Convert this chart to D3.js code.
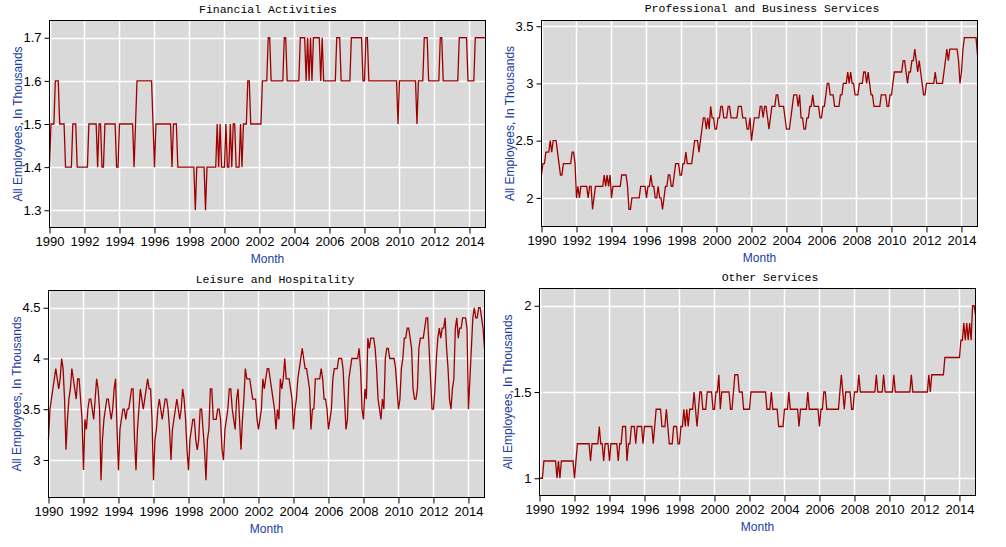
<!DOCTYPE html>
<html>
<head>
<meta charset="utf-8">
<script src="https://cdn.jsdelivr.net/npm/d3@7"></script>
<style>
  body { margin: 0; background: #fff; }
  .axis text { font-family: "Liberation Sans", Arial, sans-serif; font-size: 13px; fill: #000; }
  .axis line, .axis path { stroke: #000; }
  .title { font-family: "Liberation Mono", "Courier New", monospace; font-size: 11.5px; fill: #000; }
  .axlabel { font-family: "Liberation Sans", Arial, sans-serif; font-size: 12px; fill: #1a3ca0; }
</style>
</head>
<body>
<div id="chart"></div>
<script>
// monthly values, Jan 1990 .. Dec 2014 (one row per year)
var financial = [
  1.4,1.5,1.5,1.5,1.6,1.6,1.6,1.5,1.5,1.5,1.5,1.4,
  1.4,1.4,1.4,1.4,1.5,1.5,1.5,1.4,1.4,1.4,1.4,1.4,
  1.4,1.4,1.4,1.5,1.5,1.5,1.5,1.5,1.5,1.4,1.5,1.5,
  1.4,1.4,1.5,1.5,1.5,1.5,1.5,1.5,1.5,1.5,1.4,1.4,
  1.5,1.5,1.5,1.5,1.5,1.5,1.5,1.5,1.5,1.5,1.4,1.5,
  1.6,1.6,1.6,1.6,1.6,1.6,1.6,1.6,1.6,1.6,1.6,1.5,
  1.4,1.5,1.5,1.5,1.5,1.5,1.5,1.5,1.5,1.5,1.5,1.5,
  1.4,1.5,1.5,1.5,1.4,1.4,1.4,1.4,1.4,1.4,1.4,1.4,
  1.4,1.4,1.4,1.4,1.3,1.4,1.4,1.4,1.4,1.4,1.4,1.3,
  1.4,1.4,1.4,1.4,1.4,1.4,1.4,1.5,1.4,1.5,1.4,1.4,
  1.4,1.5,1.4,1.4,1.5,1.4,1.5,1.5,1.4,1.4,1.4,1.5,
  1.4,1.5,1.5,1.5,1.6,1.6,1.5,1.5,1.5,1.5,1.5,1.5,
  1.5,1.5,1.6,1.6,1.6,1.6,1.7,1.7,1.6,1.6,1.6,1.6,
  1.6,1.6,1.6,1.6,1.6,1.7,1.7,1.6,1.6,1.6,1.6,1.6,
  1.6,1.6,1.6,1.6,1.7,1.7,1.7,1.7,1.6,1.7,1.6,1.7,
  1.6,1.7,1.7,1.7,1.7,1.7,1.6,1.7,1.6,1.6,1.6,1.6,
  1.6,1.6,1.6,1.6,1.6,1.7,1.7,1.7,1.6,1.6,1.6,1.6,
  1.6,1.6,1.6,1.7,1.7,1.7,1.7,1.7,1.7,1.7,1.7,1.6,
  1.6,1.7,1.7,1.6,1.6,1.6,1.6,1.6,1.6,1.6,1.6,1.6,
  1.6,1.6,1.6,1.6,1.6,1.6,1.6,1.6,1.6,1.6,1.6,1.5,
  1.6,1.6,1.6,1.6,1.6,1.6,1.6,1.6,1.6,1.6,1.6,1.6,
  1.5,1.6,1.6,1.6,1.6,1.7,1.7,1.7,1.6,1.6,1.6,1.6,
  1.6,1.6,1.6,1.6,1.7,1.7,1.6,1.6,1.6,1.6,1.6,1.6,
  1.6,1.6,1.6,1.6,1.6,1.7,1.7,1.7,1.7,1.7,1.7,1.6,
  1.6,1.6,1.6,1.6,1.7,1.7,1.7,1.7,1.7,1.7,1.7,1.7
];

var professional = [
  2.2,2.3,2.3,2.4,2.4,2.4,2.5,2.4,2.5,2.5,2.5,2.4,
  2.3,2.2,2.2,2.3,2.3,2.3,2.3,2.3,2.3,2.4,2.4,2.3,
  2.0,2.1,2.0,2.1,2.1,2.1,2.1,2.1,2.0,2.1,2.1,1.9,
  2.0,2.1,2.1,2.1,2.1,2.1,2.1,2.2,2.1,2.2,2.1,2.2,
  2.0,2.1,2.1,2.1,2.1,2.1,2.1,2.2,2.2,2.2,2.2,2.1,
  1.9,1.9,2.0,2.0,2.0,2.0,2.0,2.0,2.1,2.1,2.1,2.1,
  2.0,2.1,2.1,2.2,2.1,2.1,2.0,2.0,2.1,2.0,2.0,1.9,
  2.0,2.1,2.1,2.2,2.2,2.1,2.1,2.2,2.3,2.3,2.3,2.2,
  2.2,2.3,2.3,2.4,2.3,2.3,2.3,2.3,2.4,2.5,2.5,2.5,
  2.4,2.5,2.6,2.7,2.7,2.6,2.7,2.6,2.8,2.7,2.7,2.6,
  2.6,2.7,2.7,2.8,2.8,2.7,2.7,2.7,2.8,2.8,2.7,2.7,
  2.7,2.7,2.7,2.8,2.8,2.8,2.7,2.7,2.7,2.6,2.6,2.7,
  2.5,2.6,2.7,2.7,2.7,2.7,2.8,2.8,2.7,2.8,2.8,2.7,
  2.6,2.7,2.8,2.8,2.8,2.9,2.9,2.8,2.8,2.8,2.8,2.7,
  2.6,2.6,2.6,2.7,2.8,2.9,2.9,2.9,2.8,2.9,2.7,2.7,
  2.6,2.6,2.7,2.7,2.8,2.8,2.9,2.8,2.8,2.8,2.8,2.7,
  2.7,2.8,2.8,2.9,3.0,3.0,2.9,2.9,2.9,2.8,2.8,2.8,
  2.8,2.9,2.9,3.0,3.0,3.0,3.1,3.0,3.1,3.0,3.0,2.9,
  2.9,2.9,3.0,3.0,3.0,3.1,3.1,3.0,3.1,3.0,2.9,2.9,
  2.8,2.8,2.8,2.8,2.8,2.9,2.9,2.9,2.9,2.8,2.8,2.9,
  2.9,3.0,3.1,3.1,3.1,3.1,3.1,3.1,3.2,3.2,3.1,3.0,
  3.1,3.1,3.2,3.2,3.3,3.2,3.1,3.2,3.1,3.0,2.9,2.9,
  3.0,3.0,3.0,3.0,3.0,3.0,3.1,3.0,3.0,3.0,3.0,3.0,
  3.1,3.2,3.3,3.2,3.3,3.3,3.3,3.3,3.3,3.3,3.2,3.0,
  3.1,3.3,3.4,3.4,3.4,3.4,3.4,3.4,3.4,3.4,3.4,3.25
];

var leisure = [
  3.2,3.5,3.6,3.7,3.8,3.9,3.8,3.7,3.8,4.0,3.9,3.6,
  3.1,3.4,3.6,3.7,3.9,3.8,3.7,3.6,3.8,3.8,3.6,3.4,
  2.9,3.4,3.3,3.5,3.6,3.6,3.5,3.4,3.6,3.8,3.7,3.5,
  2.8,3.2,3.4,3.5,3.6,3.6,3.5,3.4,3.5,3.7,3.8,3.3,
  2.9,3.3,3.4,3.5,3.5,3.4,3.5,3.5,3.6,3.7,3.7,3.2,
  2.9,3.3,3.5,3.7,3.6,3.5,3.6,3.7,3.8,3.7,3.7,3.4,
  2.8,3.2,3.3,3.5,3.6,3.5,3.4,3.5,3.6,3.6,3.5,3.3,
  3.0,3.3,3.4,3.5,3.6,3.5,3.4,3.5,3.7,3.6,3.4,3.1,
  2.9,3.2,3.3,3.4,3.4,3.2,3.1,3.2,3.5,3.5,3.3,3.1,
  2.8,3.2,3.3,3.7,3.7,3.4,3.4,3.4,3.5,3.5,3.4,3.1,
  3.0,3.3,3.4,3.5,3.7,3.7,3.5,3.4,3.3,3.6,3.7,3.4,
  3.1,3.4,3.6,3.9,3.8,3.8,3.8,3.7,3.6,3.6,3.6,3.4,
  3.3,3.4,3.5,3.8,3.7,3.8,3.9,3.9,3.8,3.7,3.6,3.5,
  3.3,3.5,3.4,3.8,3.7,3.8,4.0,3.8,3.8,3.8,3.7,3.6,
  3.3,3.5,3.6,3.8,3.9,4.0,4.1,4.0,3.9,3.9,3.8,3.7,
  3.3,3.5,3.5,3.8,3.8,3.8,3.8,3.9,3.8,3.6,3.6,3.5,
  3.3,3.4,3.5,3.8,3.9,3.9,3.9,4.0,4.0,4.0,3.9,3.6,
  3.3,3.4,3.8,3.9,4.0,4.0,4.0,4.0,4.0,4.1,3.9,3.5,
  3.4,3.7,3.6,4.2,4.1,4.2,4.2,4.2,4.1,3.9,3.6,3.5,
  3.4,3.6,3.5,4.0,4.1,4.1,4.0,4.0,4.0,4.0,3.9,3.7,
  3.5,3.6,3.9,4.0,4.2,4.2,4.3,4.3,4.2,4.1,3.7,3.6,
  3.6,3.7,4.1,4.2,4.2,4.2,4.3,4.4,4.4,4.1,3.8,3.5,
  3.5,3.7,4.0,4.2,4.3,4.2,4.3,4.3,4.4,4.1,3.9,3.6,
  3.5,3.7,3.8,4.3,4.4,4.2,4.3,4.3,4.4,4.4,4.4,4.3,
  3.5,3.8,4.1,4.4,4.5,4.4,4.4,4.5,4.5,4.4,4.3,4.1
];

var otherServices = [
  1.0,1.0,1.0,1.1,1.1,1.1,1.1,1.1,1.1,1.1,1.1,1.1,
  1.0,1.1,1.0,1.1,1.1,1.1,1.1,1.1,1.1,1.1,1.1,1.1,
  1.0,1.1,1.2,1.2,1.2,1.2,1.2,1.2,1.2,1.2,1.2,1.1,
  1.2,1.2,1.2,1.2,1.2,1.3,1.2,1.2,1.1,1.2,1.2,1.2,
  1.1,1.2,1.2,1.2,1.2,1.2,1.1,1.2,1.2,1.3,1.3,1.3,
  1.1,1.2,1.2,1.3,1.3,1.3,1.2,1.3,1.3,1.3,1.3,1.2,
  1.3,1.3,1.3,1.3,1.3,1.3,1.2,1.3,1.4,1.4,1.4,1.4,
  1.3,1.3,1.3,1.4,1.3,1.2,1.2,1.2,1.3,1.3,1.3,1.2,
  1.2,1.3,1.3,1.4,1.3,1.4,1.3,1.4,1.4,1.4,1.5,1.4,
  1.3,1.4,1.5,1.5,1.4,1.4,1.4,1.5,1.5,1.5,1.5,1.4,
  1.4,1.5,1.5,1.6,1.4,1.5,1.5,1.5,1.5,1.5,1.5,1.4,
  1.4,1.5,1.6,1.6,1.6,1.5,1.5,1.5,1.4,1.4,1.4,1.4,
  1.4,1.5,1.5,1.5,1.5,1.5,1.5,1.5,1.5,1.5,1.5,1.5,
  1.4,1.4,1.4,1.5,1.4,1.4,1.4,1.4,1.3,1.3,1.3,1.3,
  1.4,1.4,1.4,1.5,1.4,1.4,1.4,1.4,1.4,1.4,1.3,1.4,
  1.4,1.4,1.4,1.4,1.5,1.4,1.4,1.4,1.4,1.4,1.4,1.4,
  1.3,1.4,1.4,1.5,1.5,1.4,1.4,1.4,1.4,1.4,1.4,1.4,
  1.4,1.4,1.5,1.6,1.5,1.4,1.5,1.5,1.5,1.5,1.4,1.4,
  1.5,1.5,1.5,1.6,1.5,1.5,1.5,1.5,1.5,1.5,1.5,1.5,
  1.5,1.5,1.5,1.6,1.5,1.5,1.5,1.5,1.6,1.5,1.5,1.5,
  1.5,1.5,1.5,1.6,1.5,1.5,1.5,1.5,1.5,1.5,1.5,1.5,
  1.5,1.5,1.5,1.6,1.5,1.5,1.5,1.5,1.5,1.5,1.5,1.5,
  1.5,1.5,1.5,1.6,1.5,1.6,1.6,1.6,1.6,1.6,1.6,1.6,
  1.6,1.6,1.7,1.7,1.7,1.7,1.7,1.7,1.7,1.7,1.7,1.7,
  1.7,1.8,1.8,1.9,1.8,1.9,1.8,1.9,1.8,2.0,2.0,1.95
];

var yearTicks = [1990, 1992, 1994, 1996, 1998, 2000, 2002, 2004, 2006, 2008, 2010, 2012, 2014];
var startYear = 1990;

var titles = ["Financial Activities", "Professional and Business Services", "Leisure and Hospitality", "Other Services"];
var finTicks = [1.3, 1.4, 1.5, 1.6, 1.7];
var profTicks = [2, 2.5, 3, 3.5];
var leisTicks = [3, 3.5, 4, 4.5];
var otherTicks = [1, 1.5, 2];

var yLabel = "All Employees, In Thousands";
var xLabel = "Month";

// plot boxes and title placement
var panels = [
  {title: titles[0], values: financial,     ticks: finTicks,   x0: 49.5,  x1: 485.5, y0: 20.5,  y1: 227.5, tx: 268, ty: 13},
  {title: titles[1], values: professional,  ticks: profTicks,  x0: 541.5, x1: 977.5, y0: 20.5,  y1: 226.5, tx: 762, ty: 12},
  {title: titles[2], values: leisure,       ticks: leisTicks,  x0: 48.5,  x1: 484.5, y0: 290.5, y1: 497.5, tx: 275, ty: 282.5},
  {title: titles[3], values: otherServices, ticks: otherTicks, x0: 539.5, x1: 975.5, y0: 288.5, y1: 495.5, tx: 770, ty: 281}
];

var svg = d3.select("#chart")
  .append("svg")
  .attr("width", 1006)
  .attr("height", 547);

panels.forEach(drawPanel);

function drawPanel(p) {
  var n = p.values.length;
  var x = d3.scaleLinear().domain([0, n - 1]).range([p.x0, p.x1]);

  var ext = d3.extent(p.values);
  var pad = (ext[1] - ext[0]) * 0.1;
  var y = d3.scaleLinear().domain([ext[0] - pad, ext[1] + pad]).range([p.y1, p.y0]);

  var g = svg.append("g");

  g.append("rect")
    .attr("x", p.x0).attr("y", p.y0)
    .attr("width", p.x1 - p.x0).attr("height", p.y1 - p.y0)
    .attr("fill", "#d9d9d9");

  var tickIdx = yearTicks.map(function(yr) { return (yr - startYear) * 12; });

  // grid
  g.append("g").selectAll("line")
    .data(tickIdx)
    .enter().append("line")
    .attr("x1", function(d) { return Math.round(x(d)) + 0.5; })
    .attr("x2", function(d) { return Math.round(x(d)) + 0.5; })
    .attr("y1", p.y0).attr("y2", p.y1)
    .attr("stroke", "#fff").attr("stroke-width", 1.5);

  g.append("g").selectAll("line")
    .data(p.ticks)
    .enter().append("line")
    .attr("x1", p.x0).attr("x2", p.x1)
    .attr("y1", function(d) { return Math.round(y(d)) + 0.5; })
    .attr("y2", function(d) { return Math.round(y(d)) + 0.5; })
    .attr("stroke", "#fff").attr("stroke-width", 1.5);

  var line = d3.line()
    .x(function(d, i) { return x(i); })
    .y(function(d) { return y(d); });

  g.append("path")
    .datum(p.values)
    .attr("d", line)
    .attr("fill", "none")
    .attr("stroke", "#9e0000")
    .attr("stroke-width", 1.3);

  g.append("rect")
    .attr("x", p.x0).attr("y", p.y0)
    .attr("width", p.x1 - p.x0).attr("height", p.y1 - p.y0)
    .attr("fill", "none")
    .attr("stroke", "#000")
    .attr("shape-rendering", "crispEdges");

  g.append("g")
    .attr("class", "axis")
    .attr("transform", "translate(0," + p.y1 + ")")
    .call(d3.axisBottom(x)
      .tickValues(tickIdx)
      .tickFormat(function(d) { return startYear + d / 12; })
      .tickSize(6).tickSizeOuter(0).tickPadding(3))
    .call(function(a) { a.select(".domain").remove(); });

  g.append("g")
    .attr("class", "axis")
    .attr("transform", "translate(" + p.x0 + ",0)")
    .call(d3.axisLeft(y)
      .tickValues(p.ticks)
      .tickFormat(function(d) { return String(d); })
      .tickSize(5).tickSizeOuter(0).tickPadding(3))
    .call(function(a) { a.select(".domain").remove(); });

  g.append("text")
    .attr("class", "title")
    .attr("x", p.tx).attr("y", p.ty)
    .attr("text-anchor", "middle")
    .text(p.title);

  g.append("text")
    .attr("class", "axlabel")
    .attr("x", (p.x0 + p.x1) / 2).attr("y", p.y1 + 35)
    .attr("text-anchor", "middle")
    .text(xLabel);

  var cy = (p.y0 + p.y1) / 2;
  var lx = p.x0 - 28;
  g.append("text")
    .attr("class", "axlabel")
    .attr("transform", "translate(" + lx + "," + cy + ") rotate(-90)")
    .attr("text-anchor", "middle")
    .text(yLabel);
}
</script>
</body>
</html>
